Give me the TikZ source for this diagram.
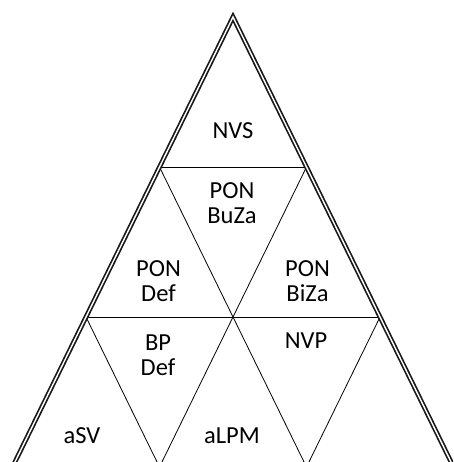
\documentclass[tikz,border=0pt]{standalone}
\usepackage{fontspec}
\setmainfont{Carlito}
\begin{document}
\begin{tikzpicture}[x=1pt,y=-1pt,
  inner/.style={line width=0.8pt, draw=black},
  outer/.style={double, line width=1.7pt, double distance=1.4pt, line join=miter, draw=black!90},
  lbl/.style={font=\fontsize{24.5}{25.5}\selectfont, align=center, inner sep=0pt, text=black}]
\useasboundingbox (0,0) rectangle (453,462);
\begin{scope}
\clip (0,0) rectangle (453,462);
\coordinate (A) at (233,17);
\coordinate (B1) at (159.5,167);
\coordinate (B2) at (306.5,167);
\coordinate (C1) at (86,317);
\coordinate (C2) at (233,317);
\coordinate (C3) at (380,317);
\coordinate (D1) at (12.5,467);
\coordinate (D2) at (159.5,467);
\coordinate (D3) at (306.5,467);
\coordinate (D4) at (453.5,467);
\draw[inner] (B1) -- (B2);
\draw[inner] (C1) -- (C3);
\draw[inner] (B1) -- (C2) -- (B2);
\draw[inner] (C1) -- (D2) -- (C2) -- (D3) -- (C3);
\draw[outer] (D1) -- (A) -- (D4);
\end{scope}
\node[lbl] (nvs) at (233,131) {NVS};
\node[lbl] (buza) at (232,203) {PON\\BuZa};
\node[lbl] (pdef) at (158.5,281) {PON\\Def};
\node[lbl] (biza) at (307.5,281) {PON\\BiZa};
\node[lbl] (bpdef) at (158,355) {BP\\Def};
\node[lbl] (nvp) at (306,341) {NVP};
\node[lbl] (asv) at (82,436) {aSV};
\node[lbl] (alpm) at (232,436) {aLPM};
\end{tikzpicture}
\end{document}
